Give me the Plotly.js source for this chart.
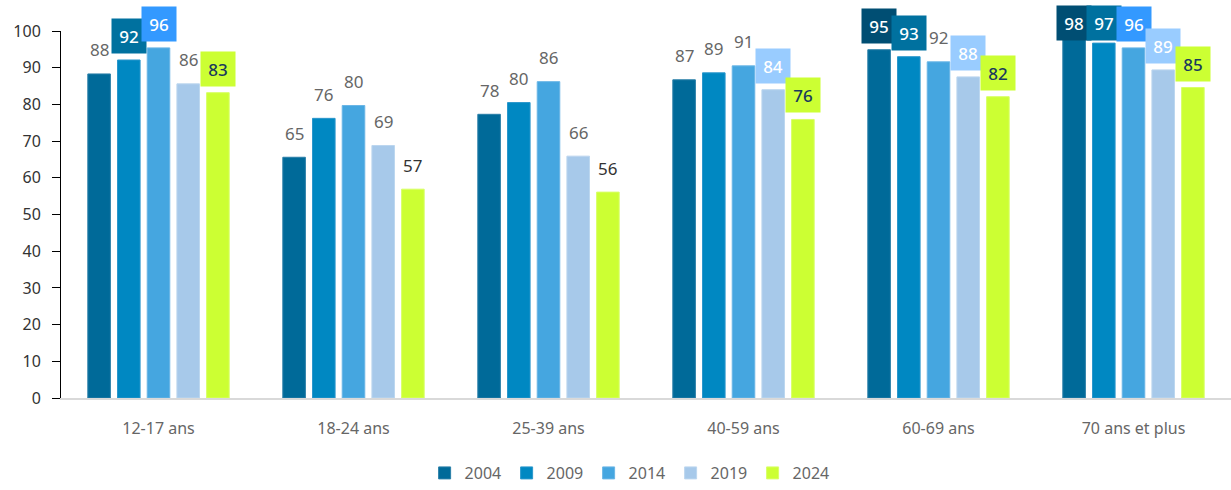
<!DOCTYPE html>
<html>
<head>
<meta charset="utf-8">
<script src="https://cdn.plot.ly/plotly-3.0.1.min.js"></script>
<style>html,body{margin:0;padding:0;background:#fff}#chart{width:1231px;height:490px}</style>
</head>
<body>
<div id="chart"></div>
<script>
const categories = ["12-17 ans", "18-24 ans", "25-39 ans", "40-59 ans", "60-69 ans", "70 ans et plus"];
const years = ["2004", "2009", "2014", "2019", "2024"];

// bar heights
const v2004 = [88.3, 65.6, 77.3, 86.7, 94.9, 98.0];
const v2009 = [92.1, 76.2, 80.5, 88.6, 93.0, 96.7];
const v2014 = [95.4, 79.7, 86.2, 90.5, 91.6, 95.4];
const v2019 = [85.6, 68.8, 65.9, 84.0, 87.5, 89.4];
const v2024 = [83.2, 56.9, 56.1, 75.9, 82.1, 84.6];

// printed labels
const l2004 = ["88", "65", "78", "87", "95", "98"];
const l2009 = ["92", "76", "80", "89", "93", "97"];
const l2014 = ["96", "80", "86", "91", "92", "96"];
const l2019 = ["86", "69", "66", "84", "88", "89"];
const l2024 = ["83", "57", "56", "76", "82", "85"];

// 1 = label drawn in a highlighted box
const b2004 = [0, 0, 0, 0, 1, 1];
const b2009 = [1, 0, 0, 0, 1, 1];
const b2014 = [1, 0, 0, 0, 0, 1];
const b2019 = [0, 0, 0, 1, 1, 1];
const b2024 = [1, 0, 0, 1, 1, 1];

const values = [v2004, v2009, v2014, v2019, v2024];
const labels = [l2004, l2009, l2014, l2019, l2024];
const boxed = [b2004, b2009, b2014, b2019, b2024];

const barColors = ["#006a99", "#0088c2", "#45a6e0", "#a7c9ea", "#ccff33"];
const barEdges = ["#2a7fa8", "#2a97cc", "#6bb6e6", "#bcd6ef", "#d8ff66"];
const boxColors = ["#004e73", "#00719f", "#3399ff", "#99ccff", "#ccff33"];
const boxText = ["#ffffff", "#ffffff", "#ffffff", "#ffffff", "#1b3a5c"];
const plainText = ["#666666", "#666666", "#666666", "#666666", "#333333"];

const FONT = "'Noto Sans', 'Open Sans', sans-serif";

const traces = years.map((yr, i) => ({
  type: "bar",
  name: yr,
  x: categories,
  y: values[i],
  marker: {color: barColors[i], line: {width: 1, color: barEdges[i]}},
  hoverinfo: "none"
}));

const pxPerUnit = 369 / 100;
const annotations = [];
years.forEach((yr, i) => {
  categories.forEach((c, j) => {
    const v = values[i][j];
    const shift = Math.min(24, 377 - v * pxPerUnit);
    const a = {
      x: j, y: v, xref: "x", yref: "y",
      xshift: (i - 2) * 29.7,
      yshift: shift,
      text: labels[i][j],
      showarrow: false,
      xanchor: "center", yanchor: "middle",
      font: {family: FONT, size: 17, color: plainText[i]}
    };
    if (boxed[i][j]) {
      a.bgcolor = boxColors[i];
      a.width = 30; a.height = 30;
      a.borderpad = 2;
      a.font = {family: FONT, size: 17, color: boxText[i], weight: 500};
    }
    annotations.push(a);
  });
});

const layout = {
  width: 1231, height: 490,
  margin: {l: 61, r: 0, t: 31, b: 90},
  paper_bgcolor: "#fff", plot_bgcolor: "#fff",
  barmode: "group",
  bargap: 0.2385,
  bargroupgap: 0.24,
  font: {family: FONT, size: 16, color: "#666"},
  xaxis: {
    type: "category",
    showgrid: false,
    showline: true, linecolor: "#d9d9d9", linewidth: 2,
    ticks: "",
    tickfont: {family: FONT, size: 16, color: "#666"},
    ticklabelstandoff: 15,
    zeroline: false
  },
  yaxis: {
    range: [0, 100],
    dtick: 10,
    showgrid: false,
    zeroline: false,
    showline: true, linecolor: "#000", linewidth: 1,
    ticks: "outside", ticklen: 8, tickcolor: "#000", tickwidth: 1,
    tickfont: {family: FONT, size: 16, color: "#333"},
    ticklabelstandoff: 8
  },
  showlegend: true,
  legend: {
    orientation: "h",
    x: 0.486, xanchor: "center",
    y: -0.206, yanchor: "middle",
    font: {family: FONT, size: 16, color: "#666"},
    itemwidth: 30,
    entrywidth: 37,
    traceorder: "normal"
  },
  annotations: annotations
};

Plotly.newPlot("chart", traces, layout, {displayModeBar: false, staticPlot: true});
</script>
</body>
</html>
